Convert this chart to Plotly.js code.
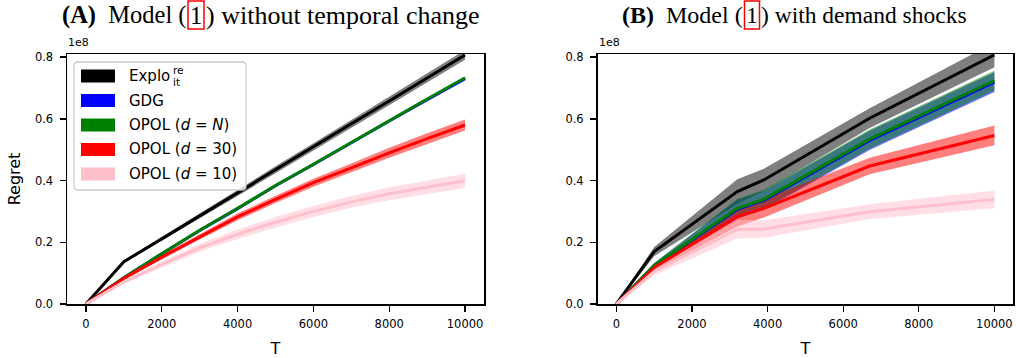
<!DOCTYPE html>
<html>
<head>
<meta charset="utf-8">
<script src="https://cdn.plot.ly/plotly-3.0.1.min.js"></script>
<style>html,body{margin:0;padding:0;background:#fff;}#chart{width:1016px;height:358px;}</style>
</head>
<body>
<div id="chart"></div>
<script>
// ---------- DATA (regret values in units of 1e8) ----------
const seriesNames = ["Explo_it^re", "GDG", "OPOL (d = N)", "OPOL (d = 30)", "OPOL (d = 10)"];
const seriesColors = ["#000000", "#0000ff", "#008000", "#ff0000", "#ffc0cb"];
const bandColors = ["rgba(0,0,0,0.5)", "rgba(0,0,255,0.55)", "rgba(0,128,0,0.5)", "rgba(255,0,0,0.5)", "rgba(255,192,203,0.5)"];

// Panel A: Model (1) without temporal change
const T_A = [0, 1000, 2000, 3000, 4000, 5000, 6000, 7000, 8000, 9000, 10000];
const exploA = [0, 0.137, 0.211, 0.286, 0.360, 0.435, 0.509, 0.584, 0.658, 0.733, 0.807];
const gdgA   = [0, 0.085, 0.163, 0.238, 0.309, 0.383, 0.452, 0.523, 0.593, 0.662, 0.730];
const opolNA = [0, 0.085, 0.163, 0.239, 0.310, 0.384, 0.453, 0.524, 0.594, 0.664, 0.733];
const opol30A = [0, 0.083, 0.152, 0.218, 0.282, 0.339, 0.393, 0.441, 0.490, 0.536, 0.580];
const opol10A = [0, 0.072, 0.128, 0.182, 0.226, 0.265, 0.300, 0.331, 0.357, 0.379, 0.399];
// half-widths of the shaded bands
const exploA_err = [0, 0.004, 0.006, 0.008, 0.010, 0.011, 0.012, 0.013, 0.014, 0.015, 0.016];
const gdgA_err   = [0, 0.001, 0.001, 0.001, 0.001, 0.002, 0.002, 0.002, 0.002, 0.002, 0.002];
const opolNA_err = [0, 0.001, 0.001, 0.001, 0.001, 0.002, 0.002, 0.002, 0.002, 0.002, 0.002];
const opol30A_err = [0, 0.004, 0.007, 0.009, 0.011, 0.012, 0.013, 0.014, 0.016, 0.017, 0.018];
const opol10A_err = [0, 0.006, 0.010, 0.013, 0.015, 0.017, 0.018, 0.019, 0.021, 0.022, 0.023];

// Panel B: Model (1) with demand shocks
const T_B = [0, 1000, 3200, 3900, 6700, 10000];
const exploB = [0, 0.170, 0.364, 0.402, 0.602, 0.807];
const gdgB   = [0, 0.124, 0.307, 0.336, 0.530, 0.719];
const opolNB = [0, 0.125, 0.310, 0.339, 0.534, 0.724];
const opol30B = [0, 0.118, 0.283, 0.310, 0.447, 0.546];
const opol10B = [0, 0.105, 0.242, 0.243, 0.299, 0.339];
const exploB_err = [0, 0.015, 0.040, 0.036, 0.032, 0.040];
const gdgB_err   = [0, 0.008, 0.031, 0.031, 0.031, 0.032];
const opolNB_err = [0, 0.008, 0.031, 0.031, 0.031, 0.032];
const opol30B_err = [0, 0.010, 0.032, 0.030, 0.027, 0.032];
const opol10B_err = [0, 0.012, 0.030, 0.028, 0.024, 0.029];

const xTicks = [0, 2000, 4000, 6000, 8000, 10000];
const yTicks = [0.0, 0.2, 0.4, 0.6, 0.8];
const yExponentLabel = "1e8";

// ---------- BUILD ----------
const W = 1016, H = 358;
const px = x => x / W;
const py = y => 1 - y / H;

const panels = [
  {T: T_A, means: [exploA, gdgA, opolNA, opol30A, opol10A], errs: [exploA_err, gdgA_err, opolNA_err, opol30A_err, opol10A_err], xa: 'x', ya: 'y'},
  {T: T_B, means: [exploB, gdgB, opolNB, opol30B, opol10B], errs: [exploB_err, gdgB_err, opolNB_err, opol30B_err, opol10B_err], xa: 'x2', ya: 'y2'}
];

const traces = [];
panels.forEach(p => {
  p.means.forEach((m, i) => {
    const up = m.map((v, k) => v + p.errs[i][k]);
    const lo = m.map((v, k) => v - p.errs[i][k]);
    traces.push({
      type: 'scatter', mode: 'lines', xaxis: p.xa, yaxis: p.ya,
      x: p.T.concat(p.T.slice().reverse()),
      y: up.concat(lo.slice().reverse()),
      fill: 'toself', fillcolor: bandColors[i], line: {width: 0},
      hoverinfo: 'skip', showlegend: false
    });
  });
  p.means.forEach((m, i) => {
    traces.push({
      type: 'scatter', mode: 'lines', xaxis: p.xa, yaxis: p.ya,
      x: p.T, y: m, name: seriesNames[i],
      line: {color: seriesColors[i], width: 3},
      showlegend: false
    });
  });
});

const tickFont = {family: 'DejaVu Sans', size: 11.5, color: '#000'};
function xAxis(domain, anchor) {
  return {domain: domain, anchor: anchor, range: [-500, 10500], tickvals: xTicks, tickformat: 'd',
    ticks: 'outside', ticklen: 6, tickwidth: 1.4, tickcolor: '#000', showline: true, mirror: true,
    linecolor: '#000', linewidth: 1.5, showgrid: false, zeroline: false, tickfont: tickFont, ticklabelstandoff: 3,
    title: {text: 'T', font: {family: 'DejaVu Sans', size: 16, color: '#000'}, standoff: 12}};
}
function yAxis(domain, anchor, title) {
  return {domain: domain, anchor: anchor, range: [0, 0.81], tickvals: yTicks, tickformat: '.1f',
    ticks: 'outside', ticklen: 6, tickwidth: 1.4, tickcolor: '#000', showline: true, mirror: true,
    linecolor: '#000', linewidth: 1.5, showgrid: false, zeroline: false, tickfont: tickFont, ticklabelstandoff: 4,
    title: {text: title, font: {family: 'DejaVu Sans', size: 16, color: '#000'}, standoff: 10}};
}
const yDom = [py(304), py(54)];

const annotations = [];
const shapes = [];
function titleParts(pre, post, boxL, boxR, sizePre, sizePost) {
  const f1 = {family: 'Liberation Serif', size: sizePre, color: '#000'};
  const f2 = {family: 'Liberation Serif', size: sizePost, color: '#000'};
  annotations.push({xref: 'paper', yref: 'paper', x: px(boxL - 0.5), y: py(15), xanchor: 'right', yanchor: 'middle', text: pre, showarrow: false, font: f1, borderpad: 0});
  annotations.push({xref: 'paper', yref: 'paper', x: px((boxL + boxR) / 2), y: py(15), xanchor: 'center', yanchor: 'middle', text: '1', showarrow: false, font: f1, borderpad: 0});
  annotations.push({xref: 'paper', yref: 'paper', x: px(boxR + 0.5), y: py(15), xanchor: 'left', yanchor: 'middle', text: post, showarrow: false, font: f2, borderpad: 0});
  shapes.push({type: 'rect', xref: 'paper', yref: 'paper', x0: px(boxL), x1: px(boxR), y0: py(1), y1: py(29), line: {color: '#ff0000', width: 1.5}});
}
titleParts('<b>(A)</b>\u00a0\u00a0Model (', ') without temporal change', 188, 204, 24.5, 26);
titleParts('<b>(B)</b>\u00a0\u00a0Model (', ') with demand shocks', 744.5, 759.5, 24, 23.5);

[67, 597.5].forEach(x0 => annotations.push({xref: 'paper', yref: 'paper', x: px(x0), y: py(50), xanchor: 'left', yanchor: 'bottom', text: yExponentLabel, showarrow: false, font: {family: 'DejaVu Sans', size: 11, color: '#000'}, borderpad: 0}));

// legend (panel A)
const legL = 74, legT = 62, legR = 246, legB = 190, rr = 4;
shapes.push({type: 'path', xref: 'paper', yref: 'paper', fillcolor: 'rgba(255,255,255,0.8)', line: {color: '#cccccc', width: 1.3},
  path: `M ${px(legL + rr)} ${py(legT)} L ${px(legR - rr)} ${py(legT)} Q ${px(legR)} ${py(legT)} ${px(legR)} ${py(legT + rr)} L ${px(legR)} ${py(legB - rr)} Q ${px(legR)} ${py(legB)} ${px(legR - rr)} ${py(legB)} L ${px(legL + rr)} ${py(legB)} Q ${px(legL)} ${py(legB)} ${px(legL)} ${py(legB - rr)} L ${px(legL)} ${py(legT + rr)} Q ${px(legL)} ${py(legT)} ${px(legL + rr)} ${py(legT)} Z`});
const legendLabels = ['Explo', 'GDG', 'OPOL (<i>d</i> = <i>N</i>)', 'OPOL (<i>d</i> = 30)', 'OPOL (<i>d</i> = 10)'];
const legFont = {family: 'DejaVu Sans', size: 15, color: '#000'};
seriesColors.forEach((c, i) => {
  const yc = 76 + i * 24.5;
  shapes.push({type: 'rect', xref: 'paper', yref: 'paper', x0: px(81), x1: px(115), y0: py(yc - 6.5), y1: py(yc + 6.5), fillcolor: c, line: {width: 0}});
  annotations.push({xref: 'paper', yref: 'paper', x: px(127.5), y: py(yc), xanchor: 'left', yanchor: 'middle', text: legendLabels[i], showarrow: false, font: legFont, borderpad: 0});
});
const smallFont = {family: 'DejaVu Sans', size: 10.5, color: '#000'};
annotations.push({xref: 'paper', yref: 'paper', x: px(171.5), y: py(70.5), xanchor: 'left', yanchor: 'middle', text: 're', showarrow: false, font: smallFont, borderpad: 0});
annotations.push({xref: 'paper', yref: 'paper', x: px(171.5), y: py(81.5), xanchor: 'left', yanchor: 'middle', text: 'it', showarrow: false, font: smallFont, borderpad: 0});

const layout = {
  width: W, height: H, margin: {l: 0, r: 0, t: 0, b: 0},
  paper_bgcolor: '#fff', plot_bgcolor: '#fff', showlegend: false,
  xaxis: xAxis([px(67), px(484)], 'y'),
  yaxis: yAxis(yDom, 'x', 'Regret'),
  xaxis2: xAxis([px(597.5), px(1013.3)], 'y2'),
  yaxis2: yAxis(yDom, 'x2', ''),
  annotations: annotations, shapes: shapes
};
Plotly.newPlot('chart', traces, layout, {displayModeBar: false, staticPlot: true});
</script>
</body>
</html>
